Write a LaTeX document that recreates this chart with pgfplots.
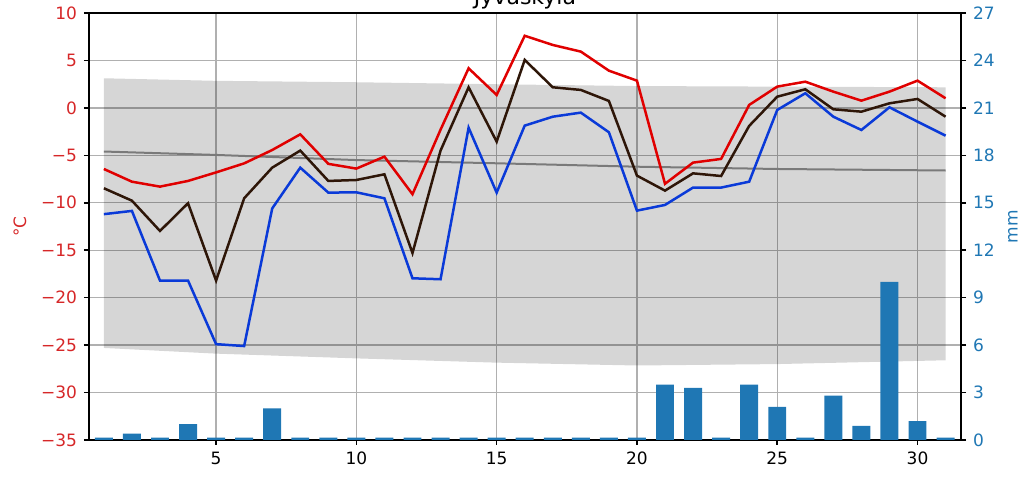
\documentclass[border=0pt]{standalone}
\usepackage{pgfplots}
\pgfplotsset{compat=1.18}
\usepackage{fontspec}
\setmainfont{DejaVu Sans}
\definecolor{tred}{HTML}{D62728}
\definecolor{tblue}{HTML}{1F77B4}
\definecolor{lred}{HTML}{E00000}
\definecolor{lblack}{HTML}{2E1608}
\definecolor{lblue}{HTML}{0A3AD8}
\definecolor{gridgray}{HTML}{B0B0B0}
\definecolor{meangray}{HTML}{7A7A7A}
\begin{document}
\begin{tikzpicture}
\begin{axis}[
  name=main,
  scale only axis, width=436pt, height=213.5pt,
  xmin=0.47, xmax=31.55, ymin=-35, ymax=10,
  xtick={5,10,15,20,25,30},
  ytick={-35,-30,-25,-20,-15,-10,-5,0,5,10},
  yticklabels={−35,−30,−25,−20,−15,−10,−5,0,5,10},
  tick pos=left, tick align=outside,
  major tick length=2.5pt,
  xmajorgrids, ymajorgrids,
  grid style={color=gridgray, line width=0.7pt},
  axis line style={line width=0.8pt},
  tick style={black, line width=0.8pt},
  yticklabel style={tred},
  ylabel={°C},
  ylabel style={tred, at={(axis description cs:-0.0791,0.5)}, anchor=center},
  font=\fontsize{8.5}{10}\selectfont,
  /pgf/number format/assume math mode=true,
]
\addplot[fill=black, fill opacity=0.16, draw=none] coordinates {
 (1,3.12) (5,2.85) (10,2.7) (15,2.49) (20,2.3) (25,2.24) (31,2.17)
 (31,-26.6) (25,-27.0) (20,-27.15) (15,-26.85) (10,-26.4) (5,-25.9) (1,-25.3)};
\addplot[meangray, line width=1pt] coordinates {
 (1,-4.6) (5,-4.96) (10,-5.5) (15,-5.84) (20,-6.2) (25,-6.44) (31,-6.6)};
\addplot[lred, line width=1.25pt] coordinates {
 (1,-6.44) (2,-7.78) (3,-8.3) (4,-7.7) (5,-6.8) (6,-5.85) (7,-4.44) (8,-2.79) (9,-5.9) (10,-6.4)
 (11,-5.14) (12,-9.1) (13,-2.3) (14,4.17) (15,1.36) (16,7.6) (17,6.63) (18,5.93) (19,3.92) (20,2.87)
 (21,-8.0) (22,-5.77) (23,-5.38) (24,0.31) (25,2.24) (26,2.76) (27,1.71) (28,0.76) (29,1.71) (30,2.87) (31,1.01)};
\addplot[lblack, line width=1.25pt] coordinates {
 (1,-8.47) (2,-9.78) (3,-12.97) (4,-10.05) (5,-18.2) (6,-9.53) (7,-6.3) (8,-4.5) (9,-7.7) (10,-7.6)
 (11,-7.0) (12,-15.3) (13,-4.5) (14,2.17) (15,-3.56) (16,5.05) (17,2.17) (18,1.89) (19,0.73) (20,-7.14)
 (21,-8.72) (22,-6.9) (23,-7.18) (24,-1.9) (25,1.18) (26,1.96) (27,-0.15) (28,-0.4) (29,0.48) (30,0.94) (31,-0.93)};
\addplot[lblue, line width=1.25pt] coordinates {
 (1,-11.2) (2,-10.86) (3,-18.2) (4,-18.2) (5,-24.9) (6,-25.1) (7,-10.6) (8,-6.3) (9,-8.93) (10,-8.9)
 (11,-9.53) (12,-17.96) (13,-18.06) (14,-2.09) (15,-8.93) (16,-1.87) (17,-0.93) (18,-0.5) (19,-2.57) (20,-10.83)
 (21,-10.23) (22,-8.4) (23,-8.4) (24,-7.78) (25,-0.22) (26,1.54) (27,-0.93) (28,-2.33) (29,0.06) (30,-1.45) (31,-2.93)};
\end{axis}
\begin{axis}[
  scale only axis, width=436pt, height=213.5pt,
  xmin=0.47, xmax=31.55, ymin=0, ymax=27,
  xtick=\empty,
  ytick={0,3,6,9,12,15,18,21,24,27},
  ytick pos=right, tick align=outside,
  major tick length=2.5pt,
  axis line style={draw=none},
  tick style={black, line width=0.8pt},
  yticklabel style={tblue},
  ylabel={mm},
  ylabel style={tblue, at={(axis description cs:1.0596,0.5)}, anchor=center, rotate=0},
  font=\fontsize{8.5}{10}\selectfont,
  /pgf/number format/assume math mode=true,
]
\addplot[ybar, bar width=0.64, fill=tblue, draw=none] coordinates {
 (1,0.15) (2,0.4) (3,0.15) (4,1.0) (5,0.15) (6,0.15) (7,2.0) (8,0.15) (9,0.15) (10,0.15)
 (11,0.15) (12,0.15) (13,0.15) (14,0.15) (15,0.15) (16,0.15) (17,0.15) (18,0.15) (19,0.15) (20,0.15)
 (21,3.5) (22,3.3) (23,0.15) (24,3.5) (25,2.1) (26,0.15) (27,2.8) (28,0.9) (29,10.0) (30,1.2) (31,0.15)};
\end{axis}
\node[font=\fontsize{11}{13}\selectfont, anchor=base] at ([yshift=4pt]main.north) {Jyväskylä};
\pgfresetboundingbox
\path[use as bounding box] ([shift={(-44.5pt,-22pt)}]main.south west) rectangle ([shift={(36.5pt,6.5pt)}]main.north east);
\end{tikzpicture}
\end{document}
